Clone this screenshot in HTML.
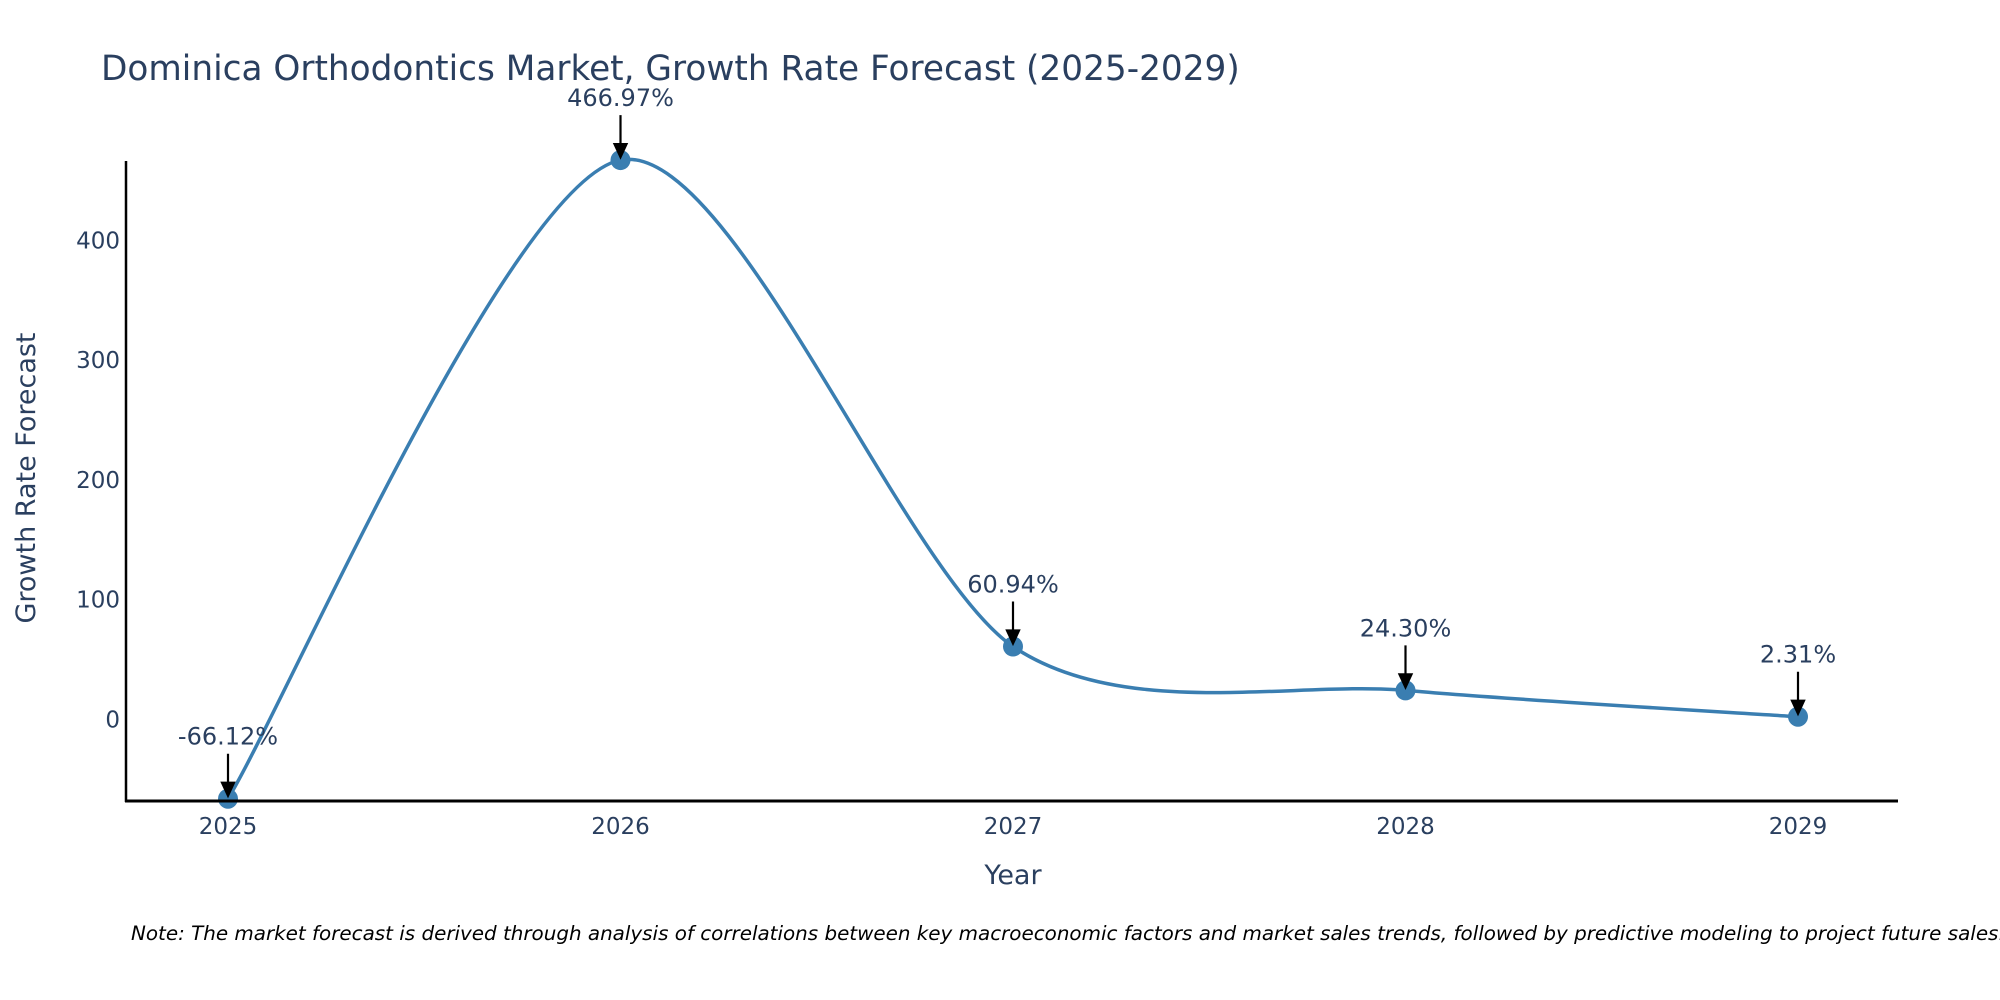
<!DOCTYPE html>
<html><head><meta charset="utf-8"><style>
html,body{margin:0;padding:0;background:#fff;}
svg{display:block;font-family:"DejaVu Sans","Liberation Sans",sans-serif;}
</style></head><body>
<svg id="chart" width="2000" height="1000" viewBox="0 0 2000 1000">
<text x="101" y="80" font-size="34.3" fill="#2a3f5f">Dominica Orthodontics Market, Growth Rate Forecast (2025-2029)</text>
<g id="yticks"></g>
<g id="xticks"></g>
<path id="line" fill="none" stroke="#3a7eb1" stroke-width="3.5"></path>
<g id="points"></g>
<g id="annots"></g>
<line x1="126" y1="161" x2="126" y2="802" stroke="#000" stroke-width="2.5"/>
<line x1="125" y1="801" x2="1898" y2="801" stroke="#000" stroke-width="3"/>
<text x="1013" y="884" font-size="27" fill="#2a3f5f" text-anchor="middle">Year</text>
<text transform="translate(35,478) rotate(-90)" font-size="27" fill="#2a3f5f" text-anchor="middle">Growth Rate Forecast</text>
<text x="131" y="940" font-size="19.9" font-style="italic" fill="#000">Note: The market forecast is derived through analysis of correlations between key macroeconomic factors and market sales trends, followed by predictive modeling to project future sales.</text>
</svg>
<script>
const years = [2025, 2026, 2027, 2028, 2029];
const growth = [-66.12, 466.97, 60.94, 24.30, 2.31];
const labels = ["-66.12%", "466.97%", "60.94%", "24.30%", "2.31%"];
const yTickValues = [0, 100, 200, 300, 400];

const NS = "http://www.w3.org/2000/svg";
function X(v){ return 228 + (v - 2025) * 392.5; }
function Y(v){ return 719.5 - v * 1.198; }
function mk(tag, attrs, parent){ const e = document.createElementNS(NS, tag); for (const k in attrs) e.setAttribute(k, attrs[k]); parent.appendChild(e); return e; }

const yt = document.getElementById('yticks');
yTickValues.forEach(v => {
  const t = mk('text', {x: 120, y: Y(v) + 8, 'font-size': 23, fill: '#2a3f5f', 'text-anchor': 'end'}, yt);
  
  
  t.textContent = v;
});
const xt = document.getElementById('xticks');
years.forEach(v => {
  const t = mk('text', {x: X(v), y: 834, 'font-size': 23, fill: '#2a3f5f', 'text-anchor': 'middle'}, xt);
  
  
  t.textContent = v;
});

const pts = years.map((y, i) => [X(y), Y(growth[i])]);
let d = `M${pts[0][0]},${pts[0][1]}`;
const s = 0.42;
for (let i = 0; i < pts.length - 1; i++) {
  const p0 = pts[Math.max(i - 1, 0)], p1 = pts[i], p2 = pts[i + 1], p3 = pts[Math.min(i + 2, pts.length - 1)];
  const c1 = [p1[0] + (p2[0] - p0[0]) * s / 3, p1[1] + (p2[1] - p0[1]) * s / 3];
  const c2 = [p2[0] - (p3[0] - p1[0]) * s / 3, p2[1] - (p3[1] - p1[1]) * s / 3];
  d += ` C${c1[0]},${c1[1]} ${c2[0]},${c2[1]} ${p2[0]},${p2[1]}`;
}
document.getElementById('line').setAttribute('d', d);

const pg = document.getElementById('points');
const ag = document.getElementById('annots');
pts.forEach((p, i) => {
  const c = mk('circle', {cx: p[0], cy: p[1], r: 10, fill: '#3a7eb1'}, pg);
  
  
  const a = mk('path', {d: `M${p[0]},${p[1] - 45} L${p[0]},${p[1] - 14} M${p[0] - 6},${p[1] - 16} L${p[0]},${p[1] - 3} L${p[0] + 6},${p[1] - 16} Z`, stroke: '#000', 'stroke-width': 2.2, fill: '#000'}, ag);
  
  
  const t = mk('text', {x: p[0], y: p[1] - 54, 'font-size': 24, fill: '#2a3f5f', 'text-anchor': 'middle'}, ag);
  
  
  t.textContent = labels[i];
});
</script>
</body></html>
